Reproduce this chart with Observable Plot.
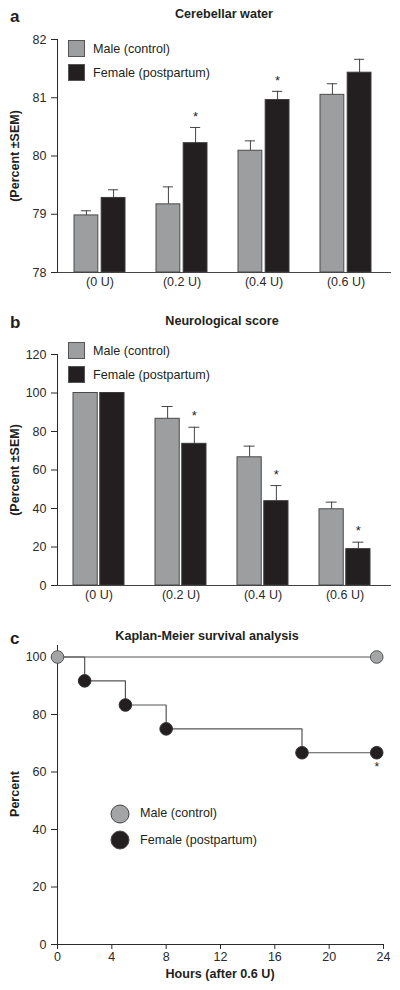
<!DOCTYPE html>
<html><head><meta charset="utf-8">
<script src="https://cdn.jsdelivr.net/npm/d3@7"></script>
<script src="https://cdn.jsdelivr.net/npm/@observablehq/plot@0.6"></script>
<style>
body{margin:0;background:#fff;font-family:"Liberation Sans",Arial,sans-serif;}
#root{position:relative;width:400px;height:990px;overflow:hidden;background:#fff;}
.abs{position:absolute;white-space:nowrap;color:#231f20;line-height:1;}
.title{font-weight:bold;font-size:12.6px;transform:translate(-50%,-50%);}
.letter{font-weight:bold;font-size:17px;transform:translate(0,-50%);}
.ylab{font-weight:bold;font-size:12.5px;transform:translate(-50%,-50%) rotate(-90deg);}
.leg{font-size:12.6px;transform:translate(0,-50%);}
.sw{position:absolute;width:17px;height:17px;border:1px solid #555;box-sizing:border-box;}
.circ{position:absolute;width:19px;height:19px;border-radius:50%;border:1px solid #444;box-sizing:border-box;transform:translate(-50%,-50%);}
.plot{position:absolute;left:0;}
</style></head><body><div id="root"></div>
<script>
// ---------- data ----------
const doses = ["(0 U)", "(0.2 U)", "(0.4 U)", "(0.6 U)"];
const sexes = ["Male (control)", "Female (postpartum)"];

// Panel a: Cerebellar water (percent)
const waterMale = [78.98, 79.17, 80.09, 81.05];
const waterMaleSem = [0.08, 0.30, 0.17, 0.19];
const waterFemale = [79.28, 80.22, 80.96, 81.43];
const waterFemaleSem = [0.14, 0.27, 0.15, 0.23];
const waterStars = [false, true, true, false];
const waterTicks = [78, 79, 80, 81, 82];

// Panel b: Neurological score (percent)
const neuroMale = [100, 86.6, 66.6, 39.6];
const neuroMaleSem = [0, 6.4, 5.8, 3.7];
const neuroFemale = [100, 73.6, 43.8, 18.9];
const neuroFemaleSem = [0, 8.6, 8.1, 3.6];
const neuroStars = [false, true, true, true];
const neuroTicks = [0, 20, 40, 60, 80, 100, 120];

// Panel c: Kaplan-Meier survival
const hoursMale = [0, 23.5];
const survMale = [100, 100];
const hoursFemale = [0, 2, 5, 8, 18, 23.5];
const survFemale = [100, 91.7, 83.3, 75, 66.7, 66.7];
const survStarFemale = [false, false, false, false, false, true];
const hourTicks = [0, 4, 8, 12, 16, 20, 24];
const survTicks = [0, 20, 40, 60, 80, 100];

// ---------- style ----------
const GRAY = "#9c9ea0";
const BLACK = "#231f20";
const root = document.getElementById("root");

function addDiv(cls, text, left, top, extra) {
  const d = document.createElement("div");
  d.className = "abs " + cls;
  d.textContent = text;
  d.style.left = left + "px";
  d.style.top = top + "px";
  if (extra) Object.assign(d.style, extra);
  root.appendChild(d);
  return d;
}
function addSwatch(left, top, color) {
  const d = document.createElement("div");
  d.className = "sw";
  d.style.left = left + "px"; d.style.top = top + "px"; d.style.background = color;
  root.appendChild(d);
}
function addCircle(cx, cy, color) {
  const d = document.createElement("div");
  d.className = "circ";
  d.style.left = cx + "px"; d.style.top = cy + "px"; d.style.background = color;
  root.appendChild(d);
}
function place(svg, top) {
  const w = document.createElement("div");
  w.className = "plot"; w.style.top = top + "px";
  w.appendChild(svg);
  root.appendChild(w);
}

const baseStyle = {fontFamily: "Liberation Sans, Arial, sans-serif", fontSize: "12.5px", color: "#2a2a2a", background: "white", overflow: "visible"};

function barPanel({height, mTop, mBottom, yDomain, yTicks, male, maleSem, female, femaleSem, stars, pInner, pOuter, align}) {
  const rows = doses.map((d, i) => ({dose: d, m: male[i], ms: maleSem[i], f: female[i], fs: femaleSem[i], star: stars[i]}));
  const mL = 57, mR = 9, width = 400;
  const range = width - mL - mR;
  const step = range / (doses.length - pInner + 2 * pOuter);
  const bw = step * (1 - pInner);
  const gap = 2.5;
  const barW = (bw - gap) / 2;
  const off = bw / 2 - barW / 2; // offset of each bar centre from band centre
  const cap = 5.5;
  const maleC = barW / 2, femC = bw - barW / 2;
  return Plot.plot({
    width, height, marginTop: mTop, marginBottom: mBottom, marginLeft: mL, marginRight: mR,
    style: baseStyle,
    x: {domain: doses, paddingInner: pInner, paddingOuter: pOuter, align, label: null, tickSize: 0, tickPadding: 5},
    y: {domain: yDomain, ticks: yTicks, tickSize: 6, tickPadding: 5, line: true, label: null, tickFormat: d => String(d)},
    marks: [
      Plot.ruleX(rows.filter(r => r.ms > 0), {x: "dose", y1: "m", y2: r => r.m + r.ms, dx: -off, stroke: "#444", strokeWidth: 1}),
      Plot.tickY(rows.filter(r => r.ms > 0), {x: "dose", y: r => r.m + r.ms, insetLeft: maleC - cap, insetRight: bw - maleC - cap, stroke: "#444", strokeWidth: 1}),
      Plot.ruleX(rows.filter(r => r.fs > 0), {x: "dose", y1: "f", y2: r => r.f + r.fs, dx: off, stroke: "#444", strokeWidth: 1}),
      Plot.tickY(rows.filter(r => r.fs > 0), {x: "dose", y: r => r.f + r.fs, insetLeft: femC - cap, insetRight: bw - femC - cap, stroke: "#444", strokeWidth: 1}),
      Plot.barY(rows, {x: "dose", y1: yDomain[0], y2: "m", insetRight: bw - barW, fill: GRAY, stroke: "#4a4a4a", strokeWidth: 1}),
      Plot.barY(rows, {x: "dose", y1: yDomain[0], y2: "f", insetLeft: bw - barW, fill: BLACK, stroke: "#3a3a3a", strokeWidth: 1}),
      Plot.text(rows.filter(r => r.star), {x: "dose", y: r => r.f + r.fs, dx: off, dy: -11, text: () => "*", fontSize: 13, fill: BLACK}),
      Plot.ruleY([yDomain[0]], {stroke: "#444", strokeWidth: 1})
    ]
  });
}

// ---------- panel a ----------
place(barPanel({height: 300, mTop: 39, mBottom: 28, yDomain: [78, 82], yTicks: waterTicks,
  male: waterMale, maleSem: waterMaleSem, female: waterFemale, femaleSem: waterFemaleSem, stars: waterStars,
  pInner: 0.373, pOuter: 0.205, align: 0.47}), 0);
addDiv("letter", "a", 10, 16);
addDiv("title", "Cerebellar water", 224, 14);
addDiv("ylab", "(Percent ±SEM)", 15, 155.5);
addSwatch(68, 40, GRAY);
addDiv("leg", sexes[0], 93, 49);
addSwatch(68, 64, BLACK);
addDiv("leg", sexes[1], 93, 73);

// ---------- panel b ----------
place(barPanel({height: 320, mTop: 54, mBottom: 35, yDomain: [0, 120], yTicks: neuroTicks,
  male: neuroMale, maleSem: neuroMaleSem, female: neuroFemale, femaleSem: neuroFemaleSem, stars: neuroStars,
  pInner: 0.378, pOuter: 0.225, align: 0.43}), 300);
addDiv("letter", "b", 10, 322);
addDiv("title", "Neurological score", 222, 321);
addDiv("ylab", "(Percent ±SEM)", 15, 469.5);
addSwatch(68, 342, GRAY);
addDiv("leg", sexes[0], 93, 351);
addSwatch(68, 366, BLACK);
addDiv("leg", sexes[1], 93, 375);

// ---------- panel c ----------
const maleRows = hoursMale.map((h, i) => ({h, s: survMale[i]}));
const femRows = hoursFemale.map((h, i) => ({h, s: survFemale[i], star: survStarFemale[i]}));
const svgC = Plot.plot({
  width: 400, height: 370, marginTop: 25, marginBottom: 46, marginLeft: 57, marginRight: 17,
  style: baseStyle,
  x: {domain: [0, 24], ticks: hourTicks, tickSize: 5, tickPadding: 3, line: true, label: null},
  y: {domain: [0, 104], ticks: survTicks, tickSize: 6, tickPadding: 5, line: true, label: null},
  marks: [
    Plot.line(femRows, {x: "h", y: "s", curve: "step-after", stroke: "#555", strokeWidth: 1.2}),
    Plot.line(maleRows, {x: "h", y: "s", stroke: "#555", strokeWidth: 1.2}),
    Plot.dot(femRows.filter(r => r.h > 0), {x: "h", y: "s", r: 6.3, fill: BLACK, stroke: "#333", strokeWidth: 1}),
    Plot.dot(maleRows, {x: "h", y: "s", r: 6.3, fill: "#a3a5a7", stroke: "#555", strokeWidth: 1}),
    Plot.text(femRows.filter(r => r.star), {x: "h", y: "s", dy: 14, text: () => "*", fontSize: 12, fill: BLACK})
  ]
});
place(svgC, 620);
addDiv("letter", "c", 10, 638);
addDiv("title", "Kaplan-Meier survival analysis", 207, 636);
addDiv("ylab", "Percent", 15, 794);
addDiv("title", "Hours (after 0.6 U)", 220, 974);
addCircle(119.5, 813.5, "#a3a5a7");
addDiv("leg", sexes[0], 140, 813);
addCircle(119.5, 840, BLACK);
addDiv("leg", sexes[1], 140, 839.5);
</script></body></html>
